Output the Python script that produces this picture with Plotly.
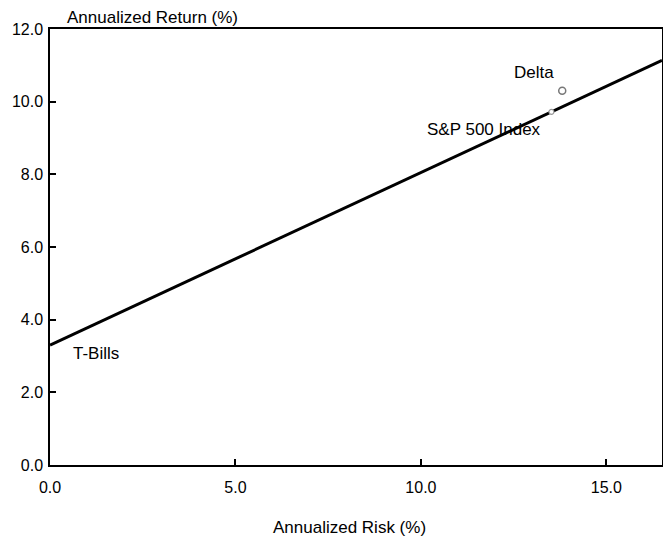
import plotly.graph_objects as go

# Data
names = ["T-Bills", "S&P 500 Index", "Delta"]
risk = [0.0, 13.52, 13.81]      # annualized risk (%)
ret = [3.30, 9.72, 10.30]       # annualized return (%)
x_ticks = [0.0, 5.0, 10.0, 15.0]
y_ticks = [0.0, 2.0, 4.0, 6.0, 8.0, 10.0, 12.0]
x_max = 16.5
y_max = 12.0

FONT = "Liberation Sans, Arial, sans-serif"

# Capital market line: from T-Bills through the S&P 500, extended to the axis end
slope = (ret[1] - ret[0]) / (risk[1] - risk[0])
line_x = [risk[0], x_max]
line_y = [ret[0], ret[0] + slope * x_max]

fig = go.Figure()
fig.add_trace(go.Scatter(x=line_x, y=line_y, mode="lines",
                         line=dict(color="black", width=3), showlegend=False,
                         hoverinfo="skip"))
fig.add_trace(go.Scatter(x=[risk[1]], y=[ret[1]], mode="markers",
                         marker=dict(size=5, color="white",
                                     line=dict(color="#999999", width=1.2)),
                         showlegend=False))
fig.add_trace(go.Scatter(x=[risk[2]], y=[ret[2]], mode="markers",
                         marker=dict(size=7, color="white", symbol="circle",
                                     line=dict(color="#777777", width=1.5)),
                         showlegend=False))

label_pos = {"T-Bills": (1.25, 3.06), "S&P 500 Index": (11.70, 9.23), "Delta": (13.06, 10.79)}
for n in names:
    lx, ly = label_pos[n]
    fig.add_annotation(x=lx, y=ly, text=n, showarrow=False,
                       xanchor="center", yanchor="middle",
                       font=dict(size=17, color="black", family=FONT))

fig.add_annotation(x=0.168, y=1.0, xref="paper", yref="paper", yshift=12,
                   xanchor="center", yanchor="middle",
                   text="Annualized Return (%)", showarrow=False,
                   font=dict(size=17, color="black", family=FONT))
fig.add_annotation(x=0.489, y=0.0, xref="paper", yref="paper", yshift=-62,
                   xanchor="center", yanchor="middle",
                   text="Annualized Risk (%)", showarrow=False,
                   font=dict(size=17, color="black", family=FONT))

fig.update_layout(
    width=655, height=530,
    margin=dict(l=42, r=1, t=21, b=73),
    paper_bgcolor="white", plot_bgcolor="white",
    font=dict(family=FONT, size=16, color="black"),
    xaxis=dict(range=[0, x_max], tickvals=x_ticks,
               ticktext=[f"{v:.1f}" for v in x_ticks],
               showgrid=False, zeroline=False, showline=True, linecolor="black",
               linewidth=1.5, mirror=True, ticks="inside", ticklen=6,
               tickcolor="black", tickwidth=1.5, automargin=False,
               ticklabelstandoff=7,
               tickfont=dict(size=16, family=FONT)),
    yaxis=dict(range=[0, y_max], tickvals=y_ticks,
               ticktext=[f"{v:.1f}" for v in y_ticks],
               showgrid=False, zeroline=False, showline=True, linecolor="black",
               linewidth=1.5, mirror=True, ticks="inside", ticklen=6,
               tickcolor="black", tickwidth=1.5, automargin=False,
               ticklabelstandoff=2,
               tickfont=dict(size=16, family=FONT)),
)

fig.write_html("out.html")
